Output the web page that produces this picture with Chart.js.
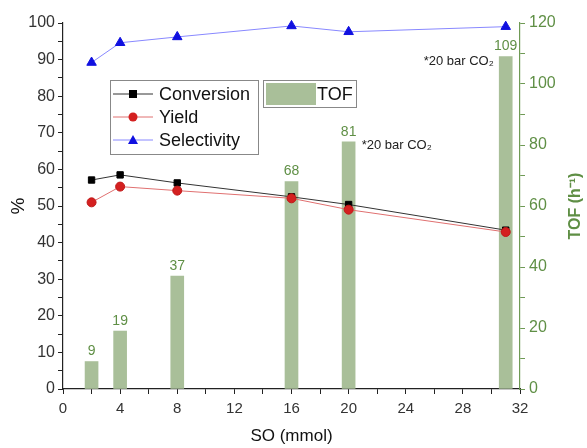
<!DOCTYPE html>
<html>
<head>
<meta charset="utf-8">
<script src="https://cdn.jsdelivr.net/npm/chart.js@4/dist/chart.umd.min.js"></script>
<style>
  html, body { margin: 0; padding: 0; background: #fff; }
  #wrap { width: 587px; height: 448px; }
</style>
</head>
<body>
<div id="wrap"><canvas id="c" width="587" height="448"></canvas></div>
<script>
// ---- data ----
const soValues = [2, 4, 8, 16, 20, 31];
const conversion = [57.1, 58.5, 56.3, 52.5, 50.4, 43.4];
const yieldVals = [51.0, 55.3, 54.2, 52.1, 49.0, 42.9];
const selectivity = [89.2, 94.6, 96.2, 99.2, 97.6, 99.0];
const tof = [9, 19, 37, 68, 81, 109];
const tofLabels = ['9', '19', '37', '68', '81', '109'];
const notes = [{ x: 20, tofY: 81, text: '*20 bar CO₂', side: 'right' },
               { x: 31, tofY: 109, text: '*20 bar CO₂', side: 'left' }];

const FONT = 'Arial, "Liberation Sans", sans-serif';
const GREEN_TXT = '#5f8f45';
const BAR = '#a9bf99';

const pts = arr => soValues.map((x, i) => ({ x: x, y: arr[i] }));

const overlay = {
  id: 'overlay',
  afterDatasetsDraw(chart) {
    const ctx = chart.ctx;
    const xs = chart.scales.x, yr = chart.scales.y2;
    ctx.save();
    // bar value labels
    ctx.font = '14px ' + FONT;
    ctx.fillStyle = GREEN_TXT;
    ctx.textAlign = 'center';
    ctx.textBaseline = 'bottom';
    soValues.forEach((x, i) => {
      ctx.fillText(tofLabels[i], xs.getPixelForValue(x), yr.getPixelForValue(tof[i]) - 3);
    });
    // notes
    ctx.fillStyle = '#222';
    ctx.font = '13px ' + FONT;
    ctx.textBaseline = 'middle';
    notes.forEach(n => {
      const px = xs.getPixelForValue(n.x);
      if (n.side === 'right') {
        ctx.textAlign = 'left';
        ctx.fillText(n.text, px + 13, yr.getPixelForValue(n.tofY) + 3);
      } else {
        ctx.textAlign = 'right';
        ctx.fillText(n.text, px - 12, yr.getPixelForValue(n.tofY) + 5);
      }
    });
    // legend boxes
    const ds = chart.data.datasets;
    ctx.lineWidth = 1;
    ctx.strokeStyle = '#888';
    ctx.fillStyle = '#fff';
    ctx.fillRect(110.5, 80.5, 148, 74);
    ctx.strokeRect(110.5, 80.5, 148, 74);
    ctx.fillRect(263.5, 80.5, 93, 27);
    ctx.strokeRect(263.5, 80.5, 93, 27);
    ctx.fillStyle = BAR;
    ctx.fillRect(266, 83, 50, 22);
    ctx.font = '18px ' + FONT;
    ctx.fillStyle = '#111';
    ctx.textAlign = 'left';
    ctx.textBaseline = 'middle';
    ctx.fillText('TOF', 317, 95);
    [1, 2, 3].forEach((k, j) => {
      const d = ds[k];
      const y = 94 + j * 23;
      ctx.strokeStyle = d.borderColor;
      ctx.beginPath(); ctx.moveTo(113, y); ctx.lineTo(153, y); ctx.stroke();
      ctx.fillStyle = d.pointBackgroundColor;
      ctx.beginPath();
      if (d.pointStyle === 'rect') { ctx.fillRect(129, y - 4, 8, 8); }
      else if (d.pointStyle === 'circle') { ctx.arc(133, y, 4.5, 0, Math.PI * 2); ctx.fill(); }
      else { ctx.moveTo(133, y - 5); ctx.lineTo(138, y + 4); ctx.lineTo(128, y + 4); ctx.closePath(); ctx.fill(); }
      ctx.fillStyle = '#111';
      ctx.fillText(d.label, 159, y + 1);
    });
    ctx.restore();
  },
  afterDraw(chart) {
    const ctx = chart.ctx;
    const yr = chart.scales.y2;
    ctx.save();
    ctx.translate(576, (yr.top + yr.bottom) / 2);
    ctx.rotate(-Math.PI / 2);
    ctx.fillStyle = GREEN_TXT;
    ctx.textAlign = 'center';
    ctx.textBaseline = 'middle';
    ctx.font = 'bold 16px ' + FONT;
    ctx.fillText('TOF (h⁻¹)', 0, 0);
    ctx.restore();
  }
};

new Chart(document.getElementById('c'), {
  data: {
    datasets: [
      { type: 'bar', label: 'TOF', data: pts(tof), yAxisID: 'y2', backgroundColor: BAR,
        barThickness: 13, order: 10 },
      { type: 'line', label: 'Conversion', data: pts(conversion), yAxisID: 'y', clip: false,
        borderColor: '#333', borderWidth: 1, pointStyle: 'rect', pointRadius: 4.5,
        pointBackgroundColor: '#000', pointBorderColor: '#000', order: 1 },
      { type: 'line', label: 'Yield', data: pts(yieldVals), yAxisID: 'y', clip: false,
        borderColor: '#e07070', borderWidth: 1, pointStyle: 'circle', pointRadius: 4.5,
        pointBackgroundColor: '#d42020', pointBorderColor: '#c01818', order: 0 },
      { type: 'line', label: 'Selectivity', data: pts(selectivity), yAxisID: 'y', clip: false,
        borderColor: '#8888ff', borderWidth: 1, pointStyle: 'triangle', pointRadius: 5.5,
        pointBackgroundColor: '#1010e0', pointBorderColor: '#1010e0', order: 2 }
    ]
  },
  options: {
    responsive: false,
    animation: false,
    layout: { padding: { top: 23, left: 0, right: 0, bottom: 0 } },
    plugins: { legend: { display: false }, tooltip: { enabled: false } },
    scales: {
      x: {
        type: 'linear', min: 0, max: 32, offset: false,
        afterFit(s) { s.height = 59; },
        border: { color: '#222', width: 1.2 },
        grid: { drawOnChartArea: false, drawTicks: true, tickLength: 5, color: '#222', offset: false },
        ticks: { stepSize: 2, autoSkip: false, maxRotation: 0, color: '#333', padding: 6,
          font: { size: 15, family: FONT },
          callback: v => (v % 4 === 0 ? String(v) : '') },
        title: { display: true, text: 'SO (mmol)', color: '#111',
          font: { size: 17, family: FONT }, padding: { top: 0, bottom: 1 } }
      },
      y: {
        position: 'left', min: 0, max: 100,
        afterFit(s) { s.width = 63; },
        border: { color: '#222', width: 1.2 },
        grid: { drawOnChartArea: false, drawTicks: true, tickLength: 5, color: '#222' },
        ticks: { stepSize: 5, autoSkip: false, color: '#333', padding: 3,
          font: { size: 16, family: FONT },
          callback: v => (v % 10 === 0 ? String(v) : '') },
        title: { display: true, text: '%', color: '#111',
          font: { size: 19, family: FONT }, padding: { top: 7, bottom: 0 } }
      },
      y2: {
        position: 'right', min: 0, max: 120,
        afterFit(s) { s.width = 67; },
        border: { color: '#6f9a55', width: 1.2 },
        grid: { drawOnChartArea: false, drawTicks: true, tickLength: 5, color: '#6f9a55' },
        ticks: { stepSize: 10, autoSkip: false, color: GREEN_TXT, padding: 4,
          font: { size: 16, family: FONT },
          callback: v => (v % 20 === 0 ? String(v) : '') }
      }
    }
  },
  plugins: [overlay]
});
</script>
</body>
</html>
